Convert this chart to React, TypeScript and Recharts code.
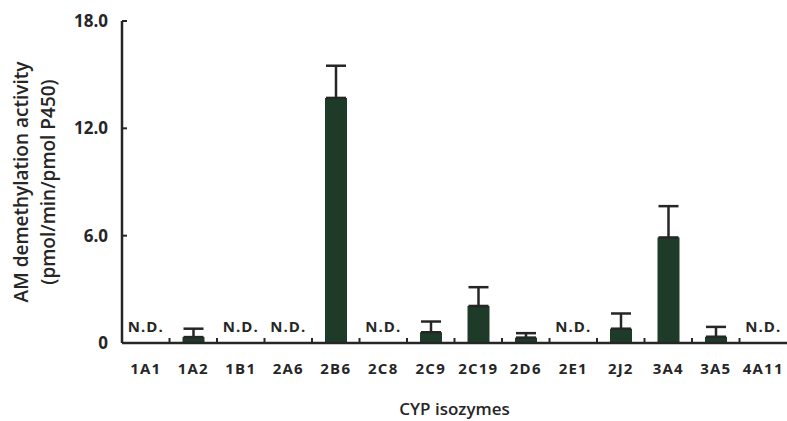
import React from 'react';
import { BarChart, Bar, XAxis, YAxis, ErrorBar, Label } from 'recharts';

const categories = ['1A1', '1A2', '1B1', '2A6', '2B6', '2C8', '2C9', '2C19', '2D6', '2E1', '2J2', '3A4', '3A5', '4A11'];
const activity = [0, 0.33, 0, 0, 13.7, 0, 0.6, 2.07, 0.3, 0, 0.8, 5.9, 0.35, 0];
const sdUpper = [null, 0.47, null, null, 1.8, null, 0.6, 1.05, 0.25, null, 0.85, 1.75, 0.55, null];
const notDetected = [true, false, true, true, false, true, false, false, false, true, false, false, false, true];
const yTicks = [0, 6, 12, 18];

const data = categories.map((c, i) => ({
  name: c,
  value: activity[i],
  err: sdUpper[i] == null ? null : [0, sdUpper[i]],
}));

const INK = '#262626';
const BAR = '#1e3a29';
const FONT = '"Open Sans", "DejaVu Sans", sans-serif';
const N = categories.length;
const PLOT_W = 787 - 122;
const BAND = PLOT_W / N;

const XTick = (props: any) => {
  const { x, y, payload, index } = props;
  return (
    <g>
      {index < N - 1 && (
        <line x1={x + BAND / 2} x2={x + BAND / 2} y1={y} y2={y - 5} stroke={INK} strokeWidth={2} />
      )}
      {notDetected[index] && (
        <text x={x} y={y - 16} dy="0.35em" textAnchor="middle" fontFamily={FONT} fontWeight={700} fontSize={15} fill={INK} letterSpacing={1}>
          N.D.
        </text>
      )}
      <text x={x} y={y + 26} dy="0.35em" textAnchor="middle" fontFamily={FONT} fontWeight={700} fontSize={15} fill={INK} letterSpacing={1.2}>
        {payload.value}
      </text>
    </g>
  );
};

const YTick = (props: any) => {
  const { x, y, payload } = props;
  const v = payload.value;
  return (
    <g>
      <line x1={x + 14} x2={x + 19} y1={y} y2={y} stroke={INK} strokeWidth={2} />
      <text x={x} y={y} dy="0.35em" textAnchor="end" fontFamily={FONT} fontWeight={700} fontSize={17} fill={INK}>
        {v === 0 ? '0' : v.toFixed(1)}
      </text>
    </g>
  );
};

const YLabel = (props: any) => {
  const vb = props.viewBox || {};
  const cy = (vb.y ?? 21) + (vb.height ?? 322) / 2;
  return (
    <g>
      <text x={21} y={cy} transform={`rotate(-90, 21, ${cy})`} textAnchor="middle" dy="0.35em" fontFamily={FONT} fontWeight={600} fontSize={19} fill={INK}>
        AM demethylation activity
      </text>
      <text x={48} y={cy} transform={`rotate(-90, 48, ${cy})`} textAnchor="middle" dy="0.35em" fontFamily={FONT} fontWeight={600} fontSize={19} fill={INK}>
        (pmol/min/pmol P450)
      </text>
    </g>
  );
};

export default function App() {
  return (
    <div style={{ position: 'absolute', left: 0, top: 0, width: 787, height: 421, background: '#fff' }}>
      <BarChart width={787} height={421} data={data} margin={{ top: 21, right: 0, left: 0, bottom: 0 }}>
        <XAxis
          dataKey="name"
          height={78}
          tickLine={false}
          tickSize={0}
          tickMargin={0}
          axisLine={{ stroke: INK, strokeWidth: 2.5 }}
          tick={<XTick />}
          interval={0}
        >
          <Label value="CYP isozymes" position="insideBottom" offset={6} fontFamily={FONT} fontWeight={600} fontSize={17} fill={INK} />
        </XAxis>
        <YAxis
          width={122}
          domain={[0, 18]}
          ticks={yTicks}
          tickLine={false}
          tickSize={0}
          tickMargin={14}
          axisLine={{ stroke: INK, strokeWidth: 2.5 }}
          tick={<YTick />}
          interval={0}
        >
          <Label content={<YLabel />} />
        </YAxis>
        <Bar dataKey="value" fill={BAR} barSize={22} isAnimationActive={false}>
          <ErrorBar dataKey="err" direction="y" width={10} stroke={INK} strokeWidth={2.5} />
        </Bar>
      </BarChart>
    </div>
  );
}
